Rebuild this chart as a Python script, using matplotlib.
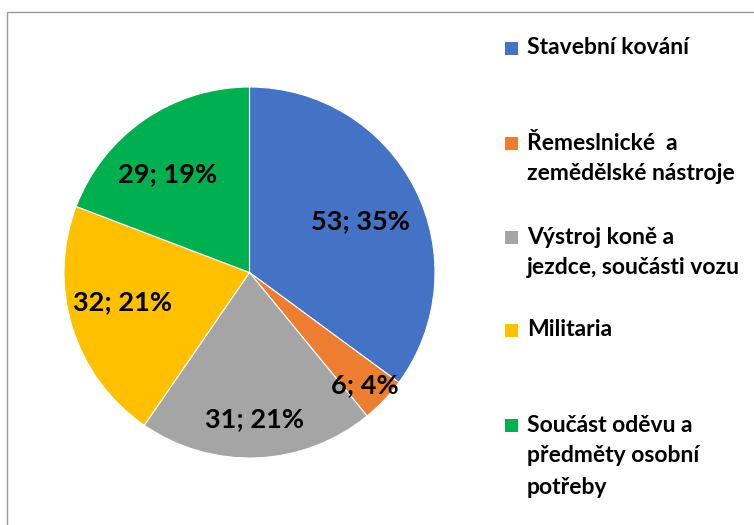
import numpy as np
import matplotlib
matplotlib.use("Agg")
import matplotlib.pyplot as plt
from matplotlib.patches import Rectangle

categories = [
    "Stavební kování",
    "Řemeslnické  a\nzemědělské nástroje",
    "Výstroj koně a\njezdce, součásti vozu",
    "Militaria",
    "Součást oděvu a\npředměty osobní\npotřeby",
]
counts = [53, 6, 31, 32, 29]
colors = ["#4472C4", "#ED7D31", "#A5A5A5", "#FFC000", "#00B050"]

W, H = 754, 525
plt.rcParams["font.family"] = ["Lato", "DejaVu Sans"]

fig = plt.figure(figsize=(W / 100, H / 100), dpi=100)
ax = fig.add_axes([0, 0, 1, 1])

# chart area frame (runs off the right and bottom edge)
ax.add_patch(Rectangle((7, -20), W + 20, H - 12 + 20, fill=False,
                       edgecolor="#9a9a9a", lw=1.0))

cx, cy, R = 249.5, H - 272.5, 185.5
wedges, _ = ax.pie(counts, colors=colors, startangle=90, counterclock=False,
                   center=(cx, cy), radius=R, frame=True,
                   wedgeprops=dict(edgecolor="white", linewidth=0.8))
ax.set_xlim(0, W)
ax.set_ylim(0, H)
ax.axis("off")

# data labels: "count; percent", nudged like Excel's best-fit placement
total = sum(counts)
lab_r = [0.66, 0.87, 0.79, 0.70, 0.69]
lab_da = [-2.0, -0.7, -0.6, -4.3, 5.1]
for w, v, rf, da in zip(wedges, counts, lab_r, lab_da):
    mid = np.deg2rad((w.theta1 + w.theta2) / 2 + da)
    x = cx + rf * R * np.cos(mid)
    y = cy + rf * R * np.sin(mid)
    ax.text(x, y, f"{v}; {v / total * 100:.0f}%", ha="center", va="center",
            fontsize=19.5, fontweight="bold", color="black")

# legend drawn entry by entry
first_line_y = [48, 143, 237, 330, 425]
line_step = 31
for lab, col, y0 in zip(categories, colors, first_line_y):
    ax.add_patch(Rectangle((505, H - y0 - 6.5), 13, 13, facecolor=col, edgecolor="none"))
    for i, line in enumerate(lab.split("\n")):
        ax.text(527, H - (y0 + i * line_step), line, ha="left", va="center",
                fontsize=16.5, fontweight="bold", color="black")

fig.savefig("out.png", dpi=100)
